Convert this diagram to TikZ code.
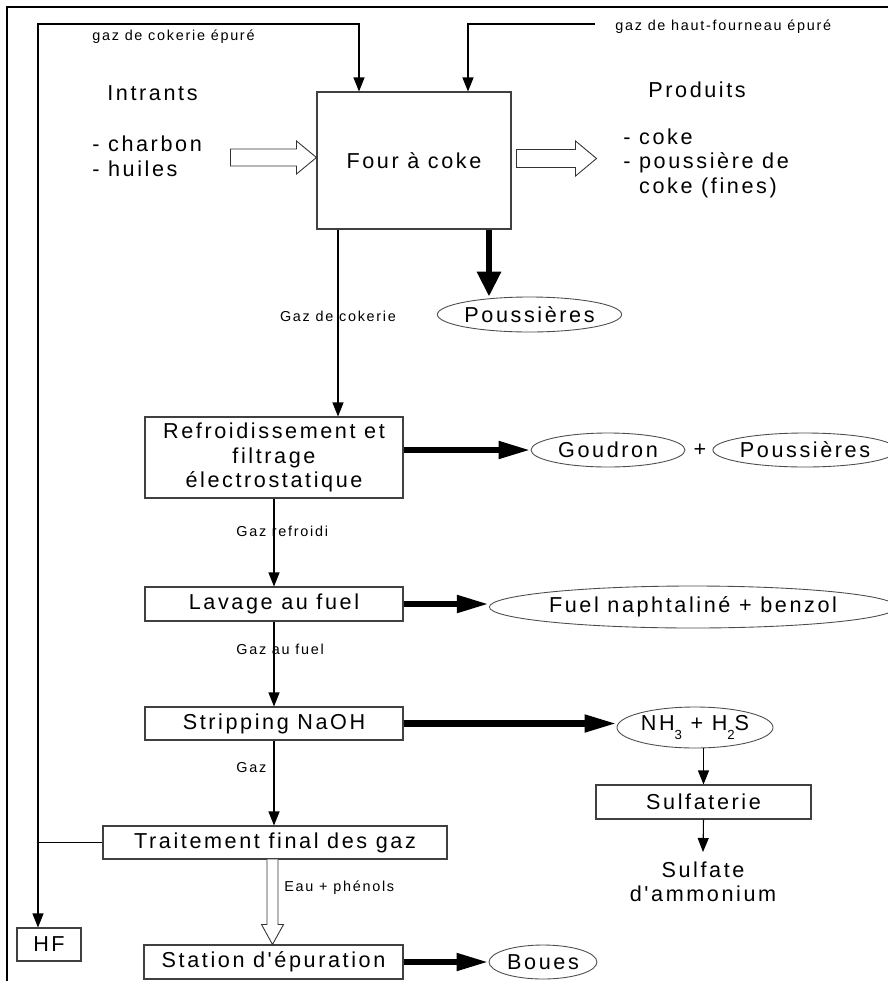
\documentclass[tikz,border=0pt]{standalone}
\usepackage{fontspec}
\newfontfamily\arialls{Liberation Sans}[LetterSpace=12]
\usetikzlibrary{arrows.meta,calc,shapes.geometric}
\newcommand{\lowidx}[1]{\raisebox{-0.75ex}{\fontsize{7.5}{8}\selectfont #1}}

\begin{document}
\begin{tikzpicture}[x=0.02cm,y=-0.02cm,
  every node/.style={font=\arialls\fontsize{12.3}{14}\selectfont, inner sep=0pt},
  procbox/.style n args={2}{draw=black!75, line width=0.6pt, rectangle,
    minimum width=#1*0.02cm, minimum height=#2*0.02cm},
  outoval/.style n args={2}{draw=black!70, line width=0.5pt, ellipse,
    minimum width=#1*0.02cm, minimum height=#2*0.02cm},
  smalllabel/.style={font=\arialls\fontsize{8.2}{9}\selectfont},
  flow/.style={line width=0.6pt, -{Triangle[length=0.28cm,width=0.22cm]}},
  bigflow/.style={line width=3.5pt, -{Triangle[length=0.64cm,width=0.33cm]}},
  bigdown/.style={line width=3.5pt, -{Triangle[length=0.5cm,width=0.46cm]}},
  hollow/.style={draw=black!80, line width=0.5pt, fill=white, line join=miter}
]
\useasboundingbox (0,0) rectangle (888,981);
% page frame
\draw[line width=0.6pt] (888,7) -- (7,7) -- (7,981);

% process units
\node[procbox={194}{137}] (four) at (414,160.5) {Four à coke};
\node[procbox={258}{81}, align=center] (refr) at (274,457.5)
  {Refroidissement et\\filtrage\\électrostatique};
\node[procbox={258}{34}] (lav) at (274,604) {Lavage au fuel};
\node[procbox={258}{33}] (strip) at (274,723.5) {Stripping NaOH};
\node[procbox={344}{33}] (trait) at (275,842.5) {Traitement final des gaz};
\node[procbox={259}{34}] (station) at (273.5,962) {Station d'épuration};
\node[procbox={64}{33}] (hf) at (49,944.5) {HF};
\node[procbox={215}{34}] (sulf) at (703.5,802) {Sulfaterie};

% by-products
\node[outoval={177}{35}] (pous1) at (529.5,314.5) {Poussières};
\node[outoval={154}{34}] (goud) at (608,450) {Goudron};
\node (plus) at (700,450) {+};
\node[outoval={164}{34}] (pous2) at (805,450) {Poussières};
\node[outoval={322}{42}] (fuel) at (693,607) {Fuel naphtaliné + benzol};
\node[outoval={156}{41}] (nh3) at (695,727.5) {NH\lowidx{3} + H\lowidx{2}S};
\node[outoval={108}{34}] (boues) at (543,962) {Boues};

% inputs and products
\node[anchor=west] (intr) at (107,93) {Intrants};
\node[anchor=west, align=left] (inlist) at (92,156.5) {- charbon\\- huiles};
\node[anchor=west] (prod) at (648,90) {Produits};
\node[anchor=west, align=left] (outlist) at (623,163)
  {- coke\\- poussière de\\\phantom{- }coke (fines)};
\node[align=center, anchor=north] (sulfate) at (703,861) {Sulfate\\d'ammonium};

% stream labels
\node[smalllabel, anchor=west] (lblcoke) at (92,37) {gaz de cokerie épuré};
\node[smalllabel, anchor=west] (lblhf) at (615,27) {gaz de haut-fourneau épuré};
\node[smalllabel] (lblgc) at (338,316) {Gaz de cokerie};
\node[smalllabel, anchor=west] (lblgr) at (236,531) {Gaz refroidi};
\node[smalllabel, anchor=west] (lblgf) at (236,649) {Gaz au fuel};
\node[smalllabel, anchor=west] (lblg) at (236,768) {Gaz};
\node[smalllabel, anchor=west] (lbleau) at (284,888) {Eau + phénols};

% recycled gas loops
\coordinate (cokein) at ($(four.north)+(-55,0)$);
\coordinate (bfin) at ($(four.north)+(54,0)$);
\coordinate (loopx) at (38,24);
\coordinate (bfsrc) at (595,24);
\draw[line width=0.6pt] (trait.west) -- (trait.west -| loopx);
\draw[flow] (trait.west -| loopx) -- (loopx) -- (loopx -| cokein) -- (cokein);
\draw[flow] (trait.west -| loopx) -- (hf.north -| loopx);
\draw[flow] (bfsrc) -- (bfsrc -| bfin) -- (bfin);

% main gas line
\coordinate (gasout) at ($(four.south)+(-76,0)$);
\draw[flow] (gasout) -- (gasout |- refr.north);
\draw[flow] (refr.south) -- (lav.north);
\draw[flow] (lav.south) -- (strip.north);
\draw[flow] (strip.south) -- (strip.south |- trait.north);
\draw[flow] (nh3.south -| sulf.north) -- (sulf.north);
\draw[flow] (sulf.south) -- ($(sulfate.north)+(0,-9)$);

% residue outlets
\coordinate (dustout) at ($(four.south)+(75,0)$);
\draw[bigdown] (dustout) -- (dustout |- pous1.north);
\draw[bigflow] (refr.east |- goud.west) -- (goud.west);
\draw[bigflow] (lav.east) -- (lav.east -| fuel.west);
\draw[bigflow] (strip.east) -- (strip.east -| nh3.west);
\draw[bigflow] (station.east) -- (boues.west);

% hollow material arrows
\coordinate (inTip) at ($(four.west)+(0,-3)$);
\draw[hollow] ($(inTip)+(-86,-8.5)$) -- ($(inTip)+(-20,-8.5)$) -- ($(inTip)+(-20,-16.5)$)
  -- (inTip) -- ($(inTip)+(-20,16.5)$) -- ($(inTip)+(-20,8.5)$) -- ($(inTip)+(-86,8.5)$) -- cycle;
\coordinate (outBase) at ($(four.east)+(5,-2)$);
\draw[hollow] ($(outBase)+(0,-9)$) -- ($(outBase)+(59,-9)$) -- ($(outBase)+(59,-17.5)$)
  -- ($(outBase)+(80,0)$) -- ($(outBase)+(59,17.5)$) -- ($(outBase)+(59,9)$) -- ($(outBase)+(0,9)$) -- cycle;
\coordinate (wTip) at ($(station.north)+(-1,0)$);
\draw[hollow] ($(wTip)+(-5.5,-85)$) -- ($(wTip)+(-5.5,-20)$) -- ($(wTip)+(-11,-20)$)
  -- (wTip) -- ($(wTip)+(11,-20)$) -- ($(wTip)+(5.5,-20)$) -- ($(wTip)+(5.5,-85)$);
\end{tikzpicture}
\end{document}
